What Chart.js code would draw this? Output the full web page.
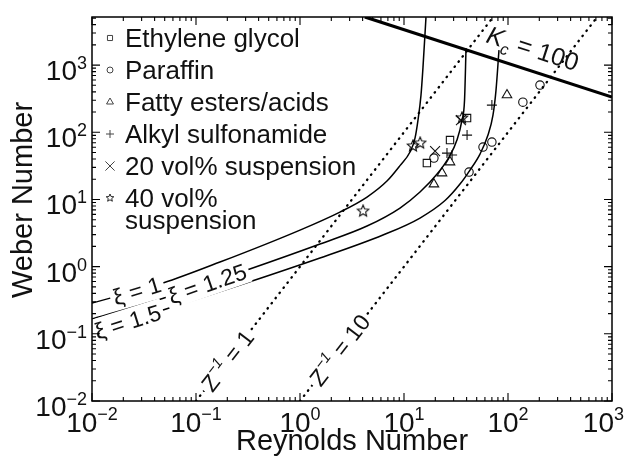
<!DOCTYPE html>
<html>
<head>
<meta charset="utf-8">
<script src="https://cdn.jsdelivr.net/npm/chart.js@4.4.0/dist/chart.umd.min.js"></script>
<style>
  body { margin: 0; background: #fff; }
</style>
</head>
<body>
<canvas id="chart" width="630" height="465"></canvas>
<script>
const FONT = '"Liberation Sans", Arial, Helvetica, sans-serif';

// axis decades and tick labels
const xDecades = [0.01, 0.1, 1, 10, 100, 1000];
const xTickExps = ['\u22122', '\u22121', '0', '1', '2', '3'];
const yDecades = [0.01, 0.1, 1, 10, 100, 1000];
const yTickExps = ['\u22122', '\u22121', '0', '1', '2', '3'];
const yTitle = 'Weber Number';

// model curves (Re, We)
const xi1Re = [0.01, 0.0482, 0.170, 1.0, 2.42, 4.41, 6.86, 9.15, 11.42, 12.76, 13.63, 14.57, 15.23, 16.27];
const xi1We = [0.287, 0.570, 1.17, 3.50, 6.49, 10.86, 18.8, 31.9, 50.8, 82, 152, 358, 933, 5180];
const xi125Re = [0.01, 0.0526, 0.309, 1.557, 4.41, 9.15, 14.25, 20.8, 27.1, 32.3, 36.1, 38.2, 39.5];
const xi125We = [0.166, 0.353, 0.890, 2.17, 4.02, 7.45, 12.9, 23.9, 42.8, 76.6, 152, 301, 1790];
const xi15Re = [0.01, 0.045, 1.557, 6.28, 14.25, 24.8, 34.55, 43.1, 53.8, 64.2, 71.7, 76.7, 81.9];
const xi15We = [0.1064, 0.2184, 1.343, 2.953, 5.29, 9.63, 16.95, 27.4, 47.4, 90.9, 180, 425, 1671];

const z1Re = [0.1, 72];
const z1We = [0.01, 5200];
const z10Re = [1, 721];
const z10We = [0.01, 5200];
const kcRe = [4.2, 1000];
const kcWe = [5200, 334];

// measured drops
const seriesNames = ['Ethylene glycol', 'Paraffin', 'Fatty esters/acids', 'Alkyl sulfonamide', '20 vol% suspension', '40 vol%\nsuspension'];
const glycolRe = [40.4, 27.7, 16.6];
const glycolWe = [163, 76.6, 34.8];
const paraffinRe = [203, 139, 70, 57.5, 42.2, 19.4];
const paraffinWe = [504, 281, 71.5, 60.3, 25.6, 41.3];
const fattyRe = [97.8, 27.7, 23.2, 19.4];
const fattyWe = [358, 36, 24.7, 16.9];
const alkylRe = [70, 40.4, 25.9, 29];
const alkylWe = [254, 90.8, 49, 45.8];
const susp20Re = [35.3, 19.9];
const susp20We = [152, 52.5];
const susp40Re = [12.2, 14.3, 4.04, 36.1];
const susp40We = [62.4, 69, 6.7, 163];

function pts(xs, ys) {
	return xs.map((x, i) => ({x: x, y: ys[i]}));
}

function makeStar(size, lw) {
	const c = document.createElement('canvas');
	c.width = c.height = size;
	const g = c.getContext('2d');
	const m = size / 2, ro = size / 2 - 1, ri = ro * 0.45;
	g.beginPath();
	for (let i = 0; i < 10; i++) {
		const r = i % 2 ? ri : ro;
		const a = -Math.PI / 2 + i * Math.PI / 5;
		g.lineTo(m + r * Math.cos(a), m + r * Math.sin(a));
	}
	g.closePath();
	g.lineWidth = lw;
	g.strokeStyle = '#111';
	g.stroke();
	return c;
}
const starBig = makeStar(14, 1.1);
const starSmall = makeStar(10, 0.9);

function curve(xs, ys, extra) {
	return Object.assign({
		data: pts(xs, ys),
		showLine: true,
		borderColor: '#000',
		borderWidth: 1.5,
		pointRadius: 0,
		cubicInterpolationMode: 'monotone'
	}, extra || {});
}
function marks(xs, ys, style, r) {
	return {
		data: pts(xs, ys),
		showLine: false,
		pointStyle: style,
		pointRadius: r,
		pointBorderColor: '#111',
		pointBackgroundColor: 'rgba(0,0,0,0)',
		pointBorderWidth: 1.1
	};
}

const dotted = {borderWidth: 2.3, borderDash: [0.5, 6], borderCapStyle: 'round', cubicInterpolationMode: 'default'};

const datasets = [
	curve(xi1Re, xi1We),
	curve(xi125Re, xi125We),
	curve(xi15Re, xi15We),
	curve(z1Re, z1We, dotted),
	curve(z10Re, z10We, dotted),
	curve(kcRe, kcWe, {borderWidth: 3.2, cubicInterpolationMode: 'default'}),
	marks(glycolRe, glycolWe, 'rect', 5.2),
	marks(paraffinRe, paraffinWe, 'circle', 4.2),
	marks(fattyRe, fattyWe, 'triangle', 5.5),
	marks(alkylRe, alkylWe, 'cross', 5),
	marks(susp20Re, susp20We, 'crossRot', 7),
	marks(susp40Re, susp40We, starBig, 7)
];

const legendMarks = [
	{pointStyle: 'rect', radius: 3.6},
	{pointStyle: 'circle', radius: 3},
	{pointStyle: 'triangle', radius: 4},
	{pointStyle: 'cross', radius: 4},
	{pointStyle: 'crossRot', radius: 6.5},
	{pointStyle: starSmall, radius: 5}
];

// curve labels: anchor in data units, angle in degrees, pieces of text
const notes = [
	{re: 0.027, we: 0.44, angle: -17, bg: true, size: 23, parts: [['\u03be = 1', '']]},
	{re: 0.128, we: 0.56, angle: -19, bg: true, size: 23, parts: [['\u03be = 1.25', '']]},
	{re: 0.022, we: 0.152, angle: -17.5, bg: true, size: 23, parts: [['\u03be = 1.5', '']]},
	{re: 0.2, we: 0.04, angle: -52.3, bg: true, size: 23, parts: [['Z', ''], ['\u22121', 'sup'], [' = 1', '']]},
	{re: 2.4, we: 0.0576, angle: -52.3, bg: true, size: 23, parts: [['Z', ''], ['\u22121', 'sup'], [' = 10', '']]},
	{re: 174, we: 1790, angle: 17.9, bg: false, size: 25, parts: [['K', 'i'], ['c', 'sub'], [' = 100', '']]}
];

function pieceFont(kind, size) {
	if (kind === 'sup' || kind === 'sub') return 'italic ' + Math.round(size * 0.65) + 'px ' + FONT;
	if (kind === 'i') return 'italic ' + size + 'px ' + FONT;
	return size + 'px ' + FONT;
}

const boxPlugin = {
	id: 'box',
	afterDatasetsDraw(chart) {
		const ctx = chart.ctx;
		const a = chart.chartArea;
		const xs = chart.scales.x, ys = chart.scales.y;
		ctx.save();

		// curve labels
		notes.forEach(n => {
			const px = xs.getPixelForValue(n.re), py = ys.getPixelForValue(n.we);
			let w = 0;
			n.parts.forEach(p => { ctx.font = pieceFont(p[1], n.size); w += ctx.measureText(p[0]).width; });
			ctx.save();
			ctx.translate(px, py);
			ctx.rotate(n.angle * Math.PI / 180);
			if (n.bg) {
				ctx.fillStyle = '#fff';
				ctx.fillRect(-w / 2 - 3, -n.size * 0.55, w + 6, n.size * 1.1);
			}
			ctx.fillStyle = '#111';
			ctx.textBaseline = 'alphabetic';
			ctx.textAlign = 'left';
			let cx = -w / 2;
			const base = n.size * 0.36;
			n.parts.forEach(p => {
				ctx.font = pieceFont(p[1], n.size);
				let dy = 0;
				if (p[1] === 'sup') dy = -n.size * 0.45;
				if (p[1] === 'sub') dy = n.size * 0.25;
				ctx.fillText(p[0], cx, base + dy);
				cx += ctx.measureText(p[0]).width;
			});
			ctx.restore();
		});

		// frame
		ctx.strokeStyle = '#000';
		ctx.lineWidth = 1.5;
		ctx.strokeRect(a.left, a.top, a.right - a.left, a.bottom - a.top);

		// inward ticks on all four sides
		ctx.lineWidth = 1.1;
		ctx.beginPath();
		xDecades.forEach(d => {
			for (let k = 1; k <= 9; k++) {
				const v = d * k;
				if (v > xs.max + 1e-9) continue;
				const p = xs.getPixelForValue(v);
				const len = k === 1 ? 8 : 4;
				ctx.moveTo(p, a.bottom); ctx.lineTo(p, a.bottom - len);
				ctx.moveTo(p, a.top); ctx.lineTo(p, a.top + len);
			}
		});
		yDecades.forEach(d => {
			for (let k = 1; k <= 9; k++) {
				const v = d * k;
				if (v > ys.max + 1e-9) continue;
				const p = ys.getPixelForValue(v);
				const len = k === 1 ? 8 : 4;
				ctx.moveTo(a.left, p); ctx.lineTo(a.left + len, p);
				ctx.moveTo(a.right, p); ctx.lineTo(a.right - len, p);
			}
		});
		ctx.stroke();

		// tick labels 10^n
		ctx.fillStyle = '#111';
		ctx.textBaseline = 'alphabetic';
		ctx.textAlign = 'left';
		xDecades.forEach((d, i) => {
			const p = xs.getPixelForValue(d);
			ctx.font = '28px ' + FONT;
			const w10 = ctx.measureText('10').width;
			ctx.font = '18px ' + FONT;
			const we = ctx.measureText(xTickExps[i]).width;
			let left = p - (w10 + we) / 2;
			if (left + w10 + we > chart.width - 6) left = chart.width - 6 - w10 - we;
			ctx.font = '28px ' + FONT;
			ctx.fillText('10', left, a.bottom + 31);
			ctx.font = '18px ' + FONT;
			ctx.fillText(xTickExps[i], left + w10, a.bottom + 19);
		});
		ctx.textAlign = 'right';
		yDecades.forEach((d, i) => {
			const p = ys.getPixelForValue(d);
			const right = a.left - 5;
			ctx.font = '18px ' + FONT;
			const we = ctx.measureText(yTickExps[i]).width;
			ctx.fillText(yTickExps[i], right, p + 4);
			ctx.font = '28px ' + FONT;
			ctx.fillText('10', right - we, p + 15);
		});

		// y axis title, a little above the middle as in the figure
		ctx.save();
		ctx.translate(24, (a.top + a.bottom) / 2 - 9);
		ctx.rotate(-Math.PI / 2);
		ctx.font = '29px ' + FONT;
		ctx.textAlign = 'center';
		ctx.textBaseline = 'middle';
		ctx.fillText(yTitle, 0, 0);
		ctx.restore();

		// legend inside the plot
		ctx.font = '26px ' + FONT;
		ctx.textAlign = 'left';
		seriesNames.forEach((name, i) => {
			const baseY = a.top + 30 + 32 * i;
			const lines = name.split('\n');
			lines.forEach((t, j) => ctx.fillText(t, a.left + 33, baseY + 22 * j));
			const m = legendMarks[i];
			ctx.strokeStyle = '#444';
			ctx.fillStyle = 'rgba(0,0,0,0)';
			ctx.lineWidth = 1;
			Chart.helpers.drawPoint(ctx, {pointStyle: m.pointStyle, radius: m.radius, borderWidth: 1, rotation: 0}, a.left + 18, baseY - 9);
			ctx.fillStyle = '#111';
		});

		ctx.restore();
	}
};

const myChart = new Chart(document.getElementById('chart').getContext('2d'), {
	type: 'scatter',
	data: {datasets: datasets},
	plugins: [boxPlugin],
	options: {
		responsive: false,
		animation: false,
		layout: {padding: {top: 17, right: 18, left: 0, bottom: 0}},
		plugins: {legend: {display: false}, tooltip: {enabled: false}},
		scales: {
			x: {
				type: 'logarithmic',
				min: 0.01,
				max: 1000,
				grid: {display: false},
				border: {display: false},
				ticks: {display: false},
				title: {display: true, text: 'Reynolds Number', color: '#111', font: {size: 29, family: FONT}, padding: {top: 0, bottom: 6}},
				afterFit(s) { s.height = 64; }
			},
			y: {
				type: 'logarithmic',
				min: 0.01,
				max: 5200,
				grid: {display: false},
				border: {display: false},
				ticks: {display: false},
				title: {display: false},
				afterFit(s) { s.width = 92; }
			}
		}
	}
});
</script>
</body>
</html>
